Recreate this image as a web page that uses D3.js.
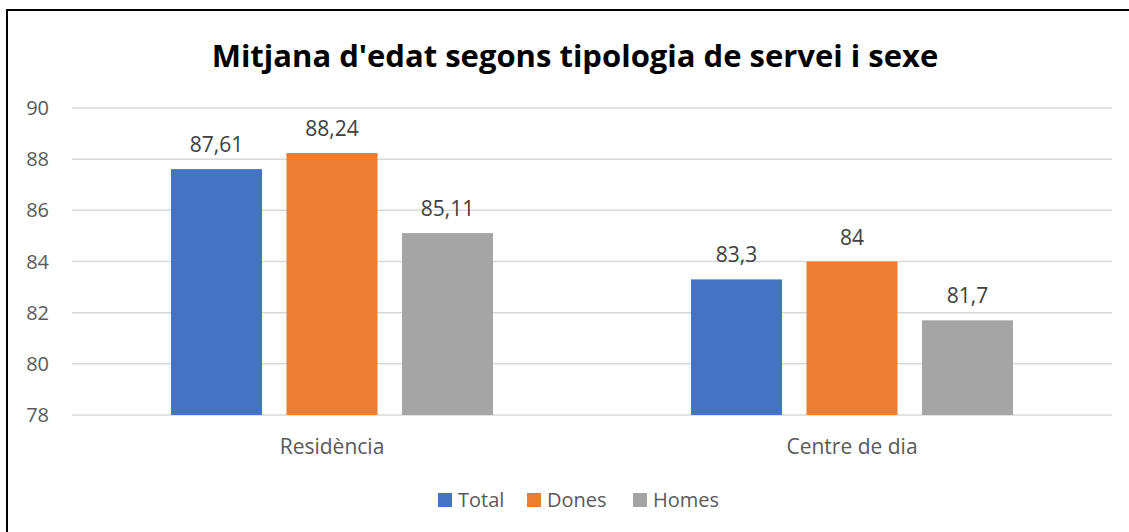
<!DOCTYPE html>
<html>
<head>
<meta charset="utf-8">
<script src="https://cdn.jsdelivr.net/npm/d3@7"></script>
<style>
  body { margin: 0; background: #fff; }
  text { font-family: "Open Sans", sans-serif; }
</style>
</head>
<body>
<div id="chart"></div>
<script>
var width = 1129,
    height = 532;

// data
var categories = ["Residència", "Centre de dia"];
var series = ["Total", "Dones", "Homes"];
var total = [87.61, 83.3];
var dones = [88.24, 84];
var homes = [85.11, 81.7];
var yTicks = [78, 80, 82, 84, 86, 88, 90];
var colors = ["#4472C4", "#ED7D31", "#A5A5A5"];

var values = [total, dones, homes];
var rows = [];
categories.forEach(function(c, i) {
  series.forEach(function(s, j) {
    rows.push({cat: c, ser: s, val: values[j][i], color: colors[j]});
  });
});

var svg = d3.select("#chart").append("svg")
    .attr("width", width)
    .attr("height", height);

// outer frame (cut at right / bottom like the screenshot)
svg.append("rect")
    .attr("x", 7).attr("y", 10)
    .attr("width", width + 20).attr("height", height + 20)
    .attr("fill", "none")
    .attr("stroke", "#000")
    .attr("stroke-width", 2);

svg.append("text")
    .attr("x", 575)
    .attr("y", 67)
    .attr("text-anchor", "middle")
    .attr("font-size", 31)
    .attr("font-weight", "bold")
    .attr("fill", "#000")
    .text("Mitjana d'edat segons tipologia de servei i sexe");

var plot = {left: 72, right: 1112, top: 108, bottom: 415};

var y = d3.scaleLinear().domain([78, 90]).range([plot.bottom, plot.top]);
var x0 = d3.scaleBand().domain(categories).range([plot.left, plot.right]);
var x1 = d3.scaleBand().domain(series).range([0, x0.bandwidth()])
    .paddingInner(0.212).paddingOuter(0.857);

// gridlines
svg.append("g")
  .selectAll("line")
  .data(yTicks)
  .enter().append("line")
    .attr("x1", plot.left).attr("x2", plot.right)
    .attr("y1", function(d) { return y(d); })
    .attr("y2", function(d) { return y(d); })
    .attr("stroke", "#D9D9D9")
    .attr("stroke-width", 1.5);

// y axis labels
svg.append("g")
  .selectAll("text")
  .data(yTicks)
  .enter().append("text")
    .attr("x", 49)
    .attr("y", function(d) { return y(d); })
    .attr("dy", "0.35em")
    .attr("text-anchor", "end")
    .attr("font-size", 20)
    .attr("fill", "#595959")
    .text(function(d) { return d; });

// bars
var fmt = function(v) { return String(v).replace(".", ","); };

var bars = svg.append("g")
  .selectAll("g")
  .data(rows)
  .enter().append("g");

bars.append("rect")
    .attr("x", function(d) { return x0(d.cat) + x1(d.ser); })
    .attr("y", function(d) { return y(d.val); })
    .attr("width", x1.bandwidth())
    .attr("height", function(d) { return y(78) - y(d.val); })
    .attr("fill", function(d) { return d.color; });

bars.append("text")
    .attr("x", function(d) { return x0(d.cat) + x1(d.ser) + x1.bandwidth() / 2; })
    .attr("y", function(d) { return y(d.val) - 17; })
    .attr("text-anchor", "middle")
    .attr("font-size", 21)
    .attr("fill", "#404040")
    .text(function(d) { return fmt(d.val); });

// category labels
svg.append("g")
  .selectAll("text")
  .data(categories)
  .enter().append("text")
    .attr("x", function(d) { return x0(d) + x0.bandwidth() / 2; })
    .attr("y", 454)
    .attr("text-anchor", "middle")
    .attr("font-size", 21)
    .attr("fill", "#595959")
    .text(function(d) { return d; });

// legend
var legendX = [438, 527, 633];
var legend = svg.append("g")
  .selectAll("g")
  .data(series)
  .enter().append("g")
    .attr("transform", function(d, i) { return "translate(" + legendX[i] + ",493)"; });

legend.append("rect")
    .attr("width", 14).attr("height", 14)
    .attr("fill", function(d, i) { return colors[i]; });

legend.append("text")
    .attr("x", 20)
    .attr("y", 7)
    .attr("dy", "0.35em")
    .attr("font-size", 20)
    .attr("fill", "#595959")
    .text(function(d) { return d; });
</script>
</body>
</html>
